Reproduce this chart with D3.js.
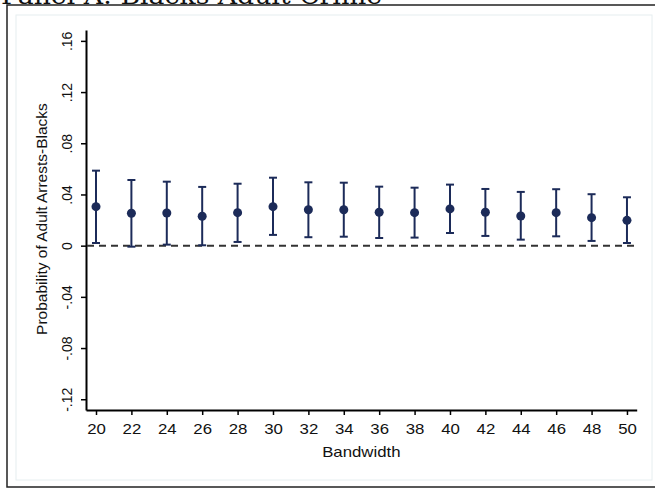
<!DOCTYPE html>
<html>
<head>
<meta charset="utf-8">
<script src="https://cdn.jsdelivr.net/npm/d3@7"></script>
<style>
  body { margin: 0; background: #fff; }
  svg { display: block; }
  text { font-family: "Liberation Sans", Arial, sans-serif; fill: #111; }
</style>
</head>
<body>
<svg id="chart"></svg>
<script>
// Bandwidths and RD estimates with 95% CI
const bandwidths = [20, 22, 24, 26, 28, 30, 32, 34, 36, 38, 40, 42, 44, 46, 48, 50];
const estimates  = [0.0305, 0.0253, 0.0255, 0.0230, 0.0258, 0.0305, 0.0281, 0.0281,
                    0.0261, 0.0258, 0.0287, 0.0261, 0.0232, 0.0258, 0.0219, 0.0198];
const ciLower    = [0.0021, -0.0008, 0.0008, 0.0003, 0.0029, 0.0084, 0.0066, 0.0070,
                    0.0060, 0.0063, 0.0099, 0.0076, 0.0047, 0.0073, 0.0037, 0.0021];
const ciUpper    = [0.0586, 0.0513, 0.0500, 0.0459, 0.0484, 0.0531, 0.0495, 0.0492,
                    0.0461, 0.0453, 0.0477, 0.0443, 0.0420, 0.0441, 0.0402, 0.0378];
const yTickValues = [-0.12, -0.08, -0.04, 0, 0.04, 0.08, 0.12, 0.16];
const yTickLabels = ['-.12', '-.08', '-.04', '0', '.04', '.08', '.12', '.16'];

const width = 655;
const height = 489;
const markColor = '#1c2b59';

const svg = d3.select('#chart').attr('width', width).attr('height', height);

// Outer frame (right side cut off) and light plot region
svg.append('path')
  .attr('d', `M${width},5 H7 V487 H${width}`)
  .attr('fill', 'none')
  .attr('stroke', '#222')
  .attr('stroke-width', 1.5);

svg.append('rect')
  .attr('x', 16).attr('y', 15)
  .attr('width', 636).attr('height', 465)
  .attr('fill', '#fff')
  .attr('stroke', '#e6eef0')
  .attr('stroke-width', 1);

// Panel title, mostly clipped by the top edge
svg.append('text')
  .attr('x', 1)
  .attr('y', 4)
  .attr('textLength', 381)
  .attr('lengthAdjust', 'spacingAndGlyphs')
  .style('font-family', '"DejaVu Serif", "Liberation Serif", serif')
  .style('font-size', '24px')
  .text('Panel A: Blacks Adult Crime');

const x = d3.scaleLinear().domain([19.435, 50.55]).range([86, 636.7]);
const y = d3.scaleLinear().domain([-0.1284, 0.1685]).range([410, 30]);

// Y axis
const yAxis = d3.axisLeft(y)
  .tickValues(yTickValues)
  .tickSize(5)
  .tickSizeOuter(0)
  .tickFormat((d, i) => yTickLabels[i]);
const yG = svg.append('g').attr('transform', 'translate(86,0)').call(yAxis);
yG.select('.domain').attr('stroke', '#000').attr('stroke-width', 2);
yG.selectAll('.tick line').attr('stroke', '#000').attr('stroke-width', 1.5);
yG.selectAll('.tick text')
  .attr('transform', 'rotate(-90)')
  .attr('x', 0)
  .attr('y', -14)
  .attr('dy', 0)
  .attr('text-anchor', 'middle')
  .style('font-size', '14px')
  .style('font-family', '"Liberation Sans", Arial, sans-serif')
  .attr('fill', '#111');

// X axis
const xAxis = d3.axisBottom(x)
  .tickValues(bandwidths)
  .tickSize(5)
  .tickSizeOuter(0)
  .tickFormat(d3.format('d'));
const xG = svg.append('g').attr('transform', 'translate(0,410)').call(xAxis);
xG.select('.domain').attr('stroke', '#000').attr('stroke-width', 2);
xG.selectAll('.tick line').attr('stroke', '#000').attr('stroke-width', 1.5);
xG.selectAll('.tick text')
  .attr('y', 24)
  .attr('dy', 0)
  .attr('transform', 'scale(1.2,1)')
  .style('font-size', '14px')
  .style('font-family', '"Liberation Sans", Arial, sans-serif')
  .attr('fill', '#111');

// Axis titles
svg.append('text')
  .attr('transform', `translate(${(86 + 636.7) / 2},457) scale(1.2,1)`)
  .attr('text-anchor', 'middle')
  .style('font-size', '14px')
  .text('Bandwidth');

svg.append('text')
  .attr('transform', 'translate(46.5,219) rotate(-90)')
  .attr('text-anchor', 'middle')
  .style('font-size', '15.5px')
  .text('Probability of Adult Arrests-Blacks');

// Zero reference line
svg.append('line')
  .attr('x1', 87).attr('x2', 636.7)
  .attr('y1', y(0)).attr('y2', y(0))
  .attr('stroke', '#333')
  .attr('stroke-width', 2)
  .attr('stroke-dasharray', '7 5');

// Error bars
const rows = bandwidths.map((b, i) => ({ b, est: estimates[i], lo: ciLower[i], hi: ciUpper[i] }));
const capHalf = 4;

const bars = svg.append('g').attr('stroke', markColor).attr('stroke-width', 2);
bars.selectAll('line.whisker')
  .data(rows).enter().append('line')
  .attr('class', 'whisker')
  .attr('x1', d => x(d.b)).attr('x2', d => x(d.b))
  .attr('y1', d => y(d.lo)).attr('y2', d => y(d.hi));
bars.selectAll('line.cap-hi')
  .data(rows).enter().append('line')
  .attr('class', 'cap-hi')
  .attr('x1', d => x(d.b) - capHalf).attr('x2', d => x(d.b) + capHalf)
  .attr('y1', d => y(d.hi)).attr('y2', d => y(d.hi));
bars.selectAll('line.cap-lo')
  .data(rows).enter().append('line')
  .attr('class', 'cap-lo')
  .attr('x1', d => x(d.b) - capHalf).attr('x2', d => x(d.b) + capHalf)
  .attr('y1', d => y(d.lo)).attr('y2', d => y(d.lo));

// Point estimates
svg.append('g').selectAll('circle')
  .data(rows).enter().append('circle')
  .attr('cx', d => x(d.b))
  .attr('cy', d => y(d.est))
  .attr('r', 4.5)
  .attr('fill', markColor);
</script>
</body>
</html>
